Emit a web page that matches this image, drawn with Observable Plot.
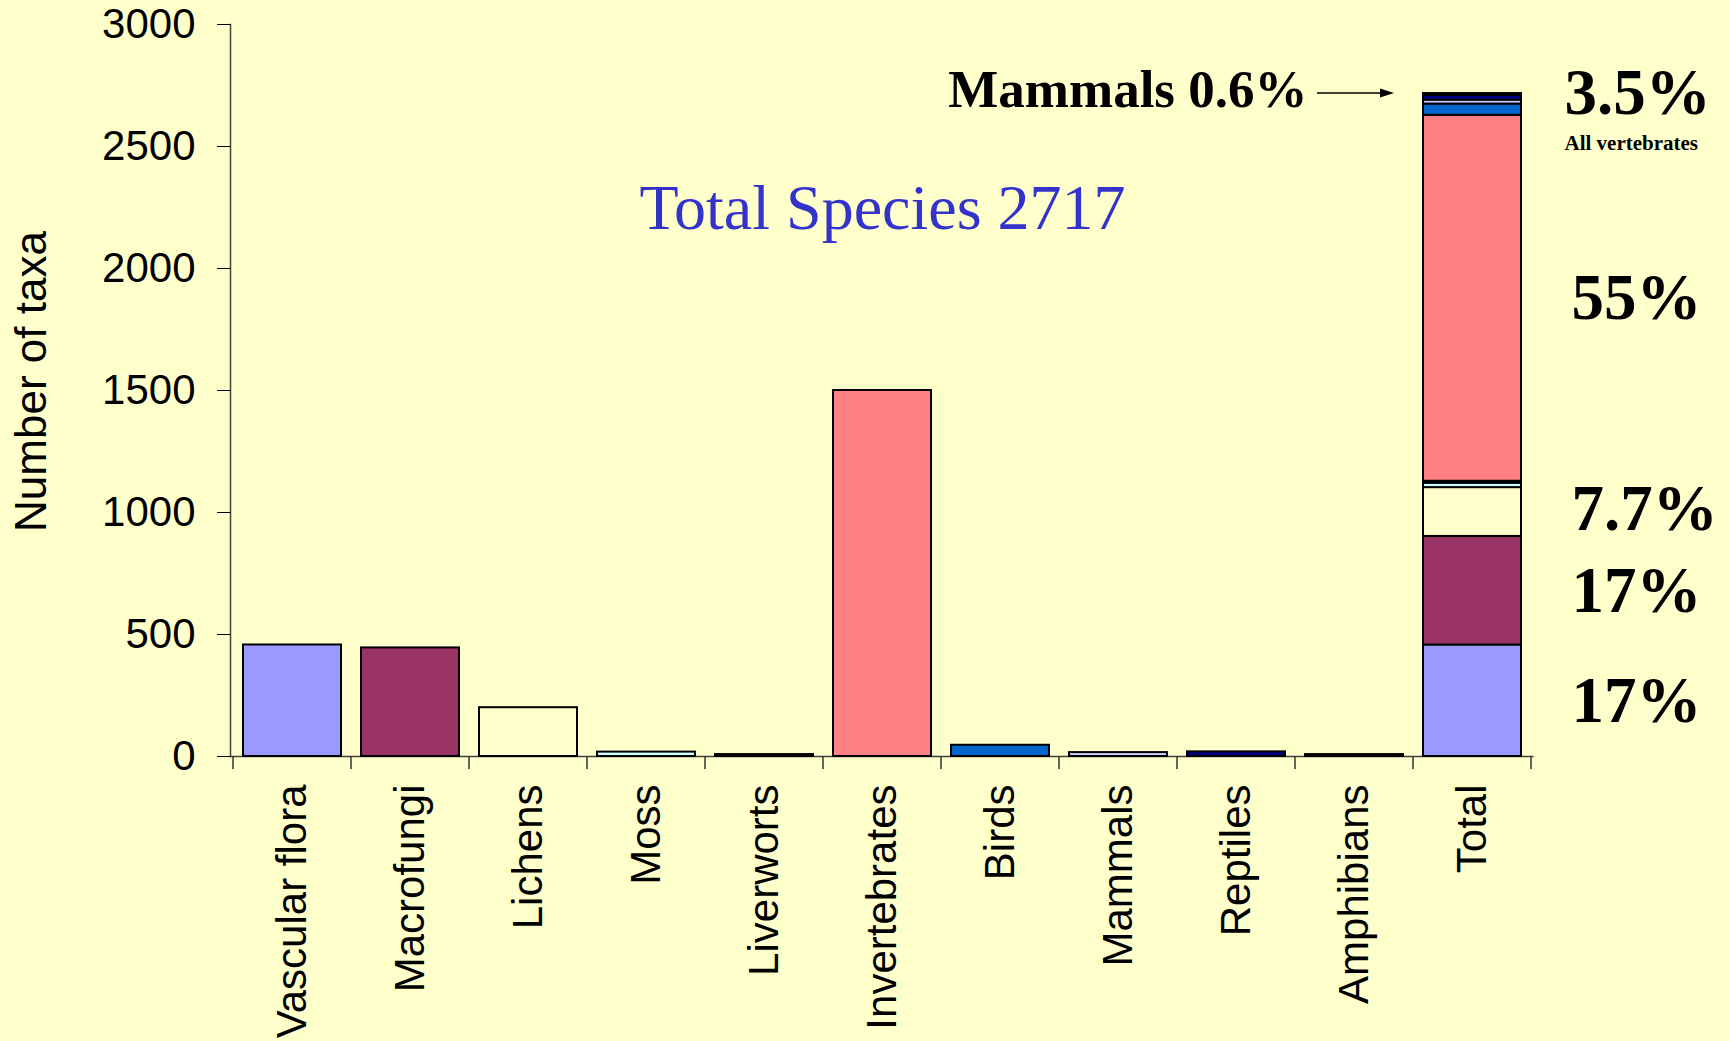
<!DOCTYPE html>
<html>
<head>
<meta charset="utf-8">
<script src="https://cdn.jsdelivr.net/npm/d3@7"></script>
<script src="https://cdn.jsdelivr.net/npm/@observablehq/plot@0.6"></script>
<style>
  html, body { margin: 0; padding: 0; background: #FFFFCC; overflow: hidden; }
  #chart svg { display: block; }
</style>
</head>
<body>
<div id="chart"></div>
<script>
// ---- data ----
const categories = ["Vascular flora", "Macrofungi", "Lichens", "Moss", "Liverworts",
  "Invertebrates", "Birds", "Mammals", "Reptiles", "Amphibians"];
const counts = [457, 445, 200, 18, 8, 1500, 46, 16, 19, 8];
const fills = ["#9999FF", "#993366", "#FFFFCC", "#CCFFFF", "#660066",
  "#FF8080", "#0066CC", "#CCCCFF", "#000080", "#000033"];
const totalLabel = "Total";
const yTicks = [0, 500, 1000, 1500, 2000, 2500, 3000];
const pctLabels = ["17%", "17%", "7.7%", "55%"];
const pctGroups = [["Vascular flora"], ["Macrofungi"], ["Lichens", "Moss", "Liverworts"], ["Invertebrates"]];
const vertPct = "3.5%";
const vertNote = "All vertebrates";
const mammalNote = "Mammals 0.6%";

// ---- derived ----
const table = categories.map((c, i) => ({category: c, value: counts[i]}));
const total = d3.sum(counts);
const cum = d3.cumsum(counts);
const pctY = pctGroups.map(g => {
  const i0 = categories.indexOf(g[0]), i1 = categories.indexOf(g[g.length - 1]);
  return (cum[i0] - counts[i0] + cum[i1]) / 2;
});
const xDomain = [...categories, totalLabel];

const serif = "'Liberation Serif', 'Times New Roman', Times, serif";
const sans = "'Liberation Sans', Arial, Helvetica, sans-serif";

// boundary ticks under the category axis (Excel style)
function boundaryTicks(index, scales) {
  const x = scales.x, y = scales.y;
  const xs = xDomain.map(c => x(c));
  const step = xs[1] - xs[0];
  const bw = typeof x.bandwidth === "function" ? x.bandwidth() : step * 0.84;
  const gap = (step - bw) / 2;
  const pos = xs.map(v => v - gap).concat([xs[xs.length - 1] + bw + gap]);
  const y0 = y(0);
  const g = d3.create("svg:g").attr("stroke", "#333").attr("stroke-width", 1.5);
  for (const p of pos) g.append("line").attr("x1", p).attr("x2", p).attr("y1", y0).attr("y2", y0 + 13);
  return g.node();
}

// arrow pointing at top of the Total stack
function mammalArrow(index, scales) {
  const x0 = scales.x(totalLabel);
  const y0 = scales.y(total);
  const g = d3.create("svg:g");
  g.append("line").attr("x1", x0 - 106).attr("x2", x0 - 38).attr("y1", y0).attr("y2", y0)
    .attr("stroke", "black").attr("stroke-width", 1.5);
  g.append("path").attr("d", `M${x0 - 29},${y0}L${x0 - 43},${y0 - 4.5}L${x0 - 43},${y0 + 4.5}Z`).attr("fill", "black");
  return g.node();
}

const chart = Plot.plot({
  width: 1729,
  height: 1041,
  marginLeft: 230,
  marginRight: 195.5,
  marginTop: 24,
  marginBottom: 285,
  style: {background: "#FFFFCC", fontFamily: sans, fontSize: "42px", color: "black", overflow: "visible"},
  x: {type: "band", domain: xDomain, paddingInner: 0.17, paddingOuter: 0.085, label: null},
  y: {domain: [0, 3000], label: null},
  color: {domain: categories, range: fills},
  marks: [
    Plot.frame({anchor: "left", stroke: "#404040", strokeWidth: 1.5}),
    Plot.ruleY([0], {stroke: "#404040", strokeWidth: 1.5}),
    Plot.barY(table, {x: "category", y: "value", fill: "category", stroke: "black", strokeWidth: 2}),
    Plot.barY(table, {x: () => totalLabel, y: "value", fill: "category", stroke: "black", strokeWidth: 2}),
    Plot.axisY({ticks: yTicks, tickSize: 13, tickPadding: 22, tickFormat: d3.format("d"), label: null,
      fontSize: 42, stroke: "black"}),
    Plot.axisX({tickSize: 0, tickRotate: -90, tickPadding: 28, label: null, fontSize: 42}),
    boundaryTicks,
    Plot.text(["Number of taxa"], {frameAnchor: "left", textAnchor: "middle", rotate: -90, dx: -199, dy: -9,
      fontSize: 44, fontFamily: sans, fill: "black"}),
    Plot.text([`Total Species ${total}`], {x: () => "Invertebrates", frameAnchor: "top", dy: 204,
      lineAnchor: "bottom", fontSize: 64, fontFamily: serif, fill: "#3333CC"}),
    Plot.text(pctLabels, {x: () => totalLabel, y: pctY, dx: 99, textAnchor: "start",
      fontSize: 65, fontFamily: serif, fontWeight: "bold", fill: "black"}),
    Plot.text([vertPct], {x: () => totalLabel, y: [total], dx: 92, textAnchor: "start",
      fontSize: 65, fontFamily: serif, fontWeight: "bold", fill: "black"}),
    Plot.text([vertNote], {x: () => totalLabel, y: [total], dx: 92, dy: 56, lineAnchor: "bottom",
      textAnchor: "start", fontSize: 21, fontFamily: serif, fontWeight: "bold", fill: "black"}),
    Plot.text([mammalNote], {x: () => totalLabel, y: [total], dx: -165, dy: -4, textAnchor: "end",
      fontSize: 53, fontFamily: serif, fontWeight: "bold", fill: "black"}),
    mammalArrow
  ]
});
document.getElementById("chart").appendChild(chart);
</script>
</body>
</html>
